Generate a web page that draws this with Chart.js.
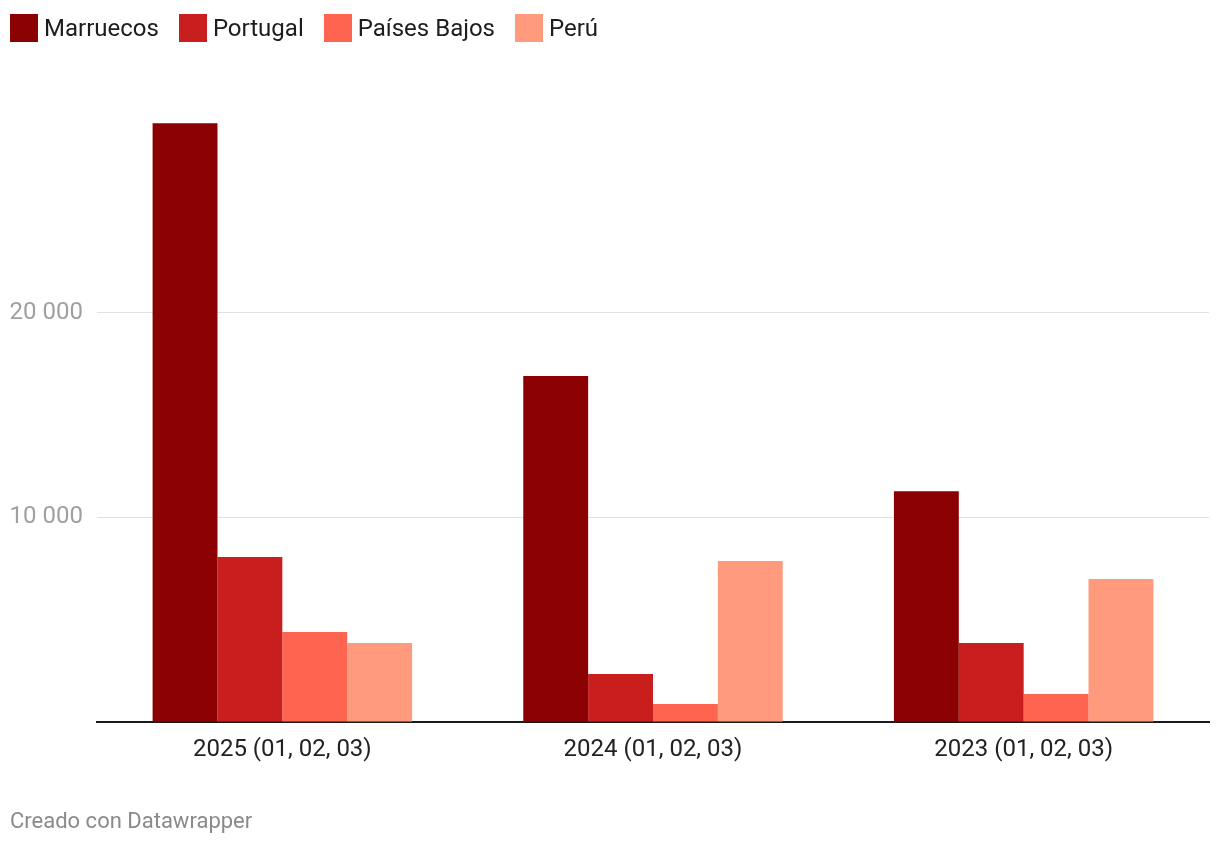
<!DOCTYPE html>
<html>
<head>
<meta charset="utf-8">
<script src="https://cdn.jsdelivr.net/npm/chart.js@4.4.1/dist/chart.umd.min.js"></script>
<style>
  html, body { margin: 0; padding: 0; background: #fff; }
  body { width: 1220px; height: 844px; position: relative; overflow: hidden; font-family: Roboto, "Noto Sans", sans-serif; }
  #legend { position: absolute; left: 10px; top: 14px; height: 28px; display: flex; align-items: center; font-size: 24px; line-height: 28px; color: #1d1d1d; }
  .item { display: flex; align-items: center; margin-right: 20px; }
  .box { width: 28px; height: 28px; margin-right: 6px; }
  #wrap { position: absolute; left: 0; top: 0; width: 1220px; height: 844px; }
  #footer { position: absolute; left: 10px; top: 808px; font-size: 22px; color: #8a8a8a; }
</style>
</head>
<body>
<div id="wrap"><canvas id="c" width="1220" height="844"></canvas></div>
<div id="legend"></div>
<div id="footer">Creado con Datawrapper</div>
<script>
const categories = ["2025 (01, 02, 03)", "2024 (01, 02, 03)", "2023 (01, 02, 03)"];
const seriesNames = ["Marruecos", "Portugal", "Países Bajos", "Perú"];
const marruecos = [29260, 16900, 11280];
const portugal = [8060, 2345, 3860];
const paisesBajos = [4400, 880, 1370];
const peru = [3860, 7865, 6985];
const yTicks = [10000, 20000];
const colors = ["#8b0000", "#c81e1e", "#ff6450", "#ff9a7c"];

const values = [marruecos, portugal, paisesBajos, peru];

const legend = document.getElementById('legend');
seriesNames.forEach((n, i) => {
  const it = document.createElement('div'); it.className = 'item';
  const b = document.createElement('div'); b.className = 'box'; b.style.background = colors[i];
  const t = document.createElement('span'); t.textContent = n;
  it.appendChild(b); it.appendChild(t); legend.appendChild(it);
});

const fmt = v => String(v).replace(/\B(?=(\d{3})+(?!\d))/g, ' ');

new Chart(document.getElementById('c'), {
  type: 'bar',
  data: {
    labels: categories,
    datasets: seriesNames.map((n, i) => ({
      label: n, data: values[i], backgroundColor: colors[i],
      categoryPercentage: 0.7, barPercentage: 1.0, borderWidth: 0
    }))
  },
  options: {
    responsive: false,
    animation: false,
    devicePixelRatio: 1,
    layout: { padding: { top: 108, right: 11, left: 0, bottom: 0 } },
    plugins: { legend: { display: false }, tooltip: { enabled: false } },
    scales: {
      x: {
        grid: { display: false, drawTicks: false },
        border: { display: true, color: '#1a1a1a', width: 2 },
        ticks: { color: '#222', font: { family: 'Roboto', size: 24 }, padding: 14, maxRotation: 0 },
        afterFit: s => { s.height = 122; }
      },
      y: {
        min: 0, max: 30000,
        border: { display: false },
        grid: {
          drawTicks: false,
          color: ctx => (yTicks.includes(ctx.tick && ctx.tick.value) ? '#e1e1e1' : 'rgba(0,0,0,0)'),
          lineWidth: 1
        },
        afterBuildTicks: s => { s.ticks = [0, ...yTicks, 30000].map(v => ({ value: v })); },
        ticks: {
          color: '#a0a0a0', font: { family: 'Roboto', size: 24 }, padding: 14,
          callback: v => (yTicks.includes(v) ? fmt(v) : '')
        },
        afterFit: s => { s.width = 97; }
      }
    }
  }
});
</script>
</body>
</html>
